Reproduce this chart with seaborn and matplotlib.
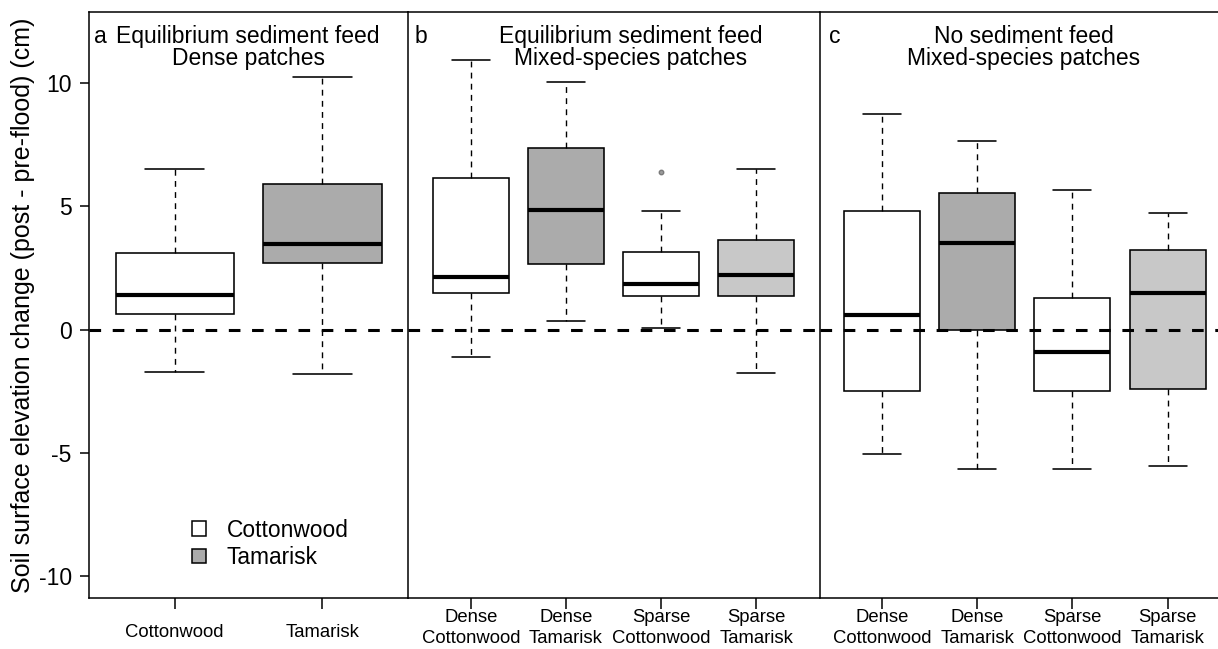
import matplotlib
matplotlib.use("Agg")
import matplotlib.pyplot as plt
from matplotlib.patches import Patch
import pandas as pd
import seaborn as sns

# ---- box summaries: lower whisker, Q1, median, Q3, upper whisker, outliers ----
# Panel a: equilibrium sediment feed, dense patches
a_groups = ["Cottonwood", "Tamarisk"]
a_low = [-1.71, -1.80]
a_q1 = [0.64, 2.68]
a_med = [1.41, 3.45]
a_q3 = [3.09, 5.91]
a_high = [6.52, 10.22]
a_out = [[], []]

# Panel b: equilibrium sediment feed, mixed-species patches
b_groups = ["Dense\nCottonwood", "Dense\nTamarisk", "Sparse\nCottonwood", "Sparse\nTamarisk"]
b_low = [-1.10, 0.33, 0.05, -1.76]
b_q1 = [1.47, 2.67, 1.36, 1.36]
b_med = [2.13, 4.83, 1.83, 2.20]
b_q3 = [6.13, 7.34, 3.14, 3.64]
b_high = [10.92, 10.05, 4.82, 6.51]
b_out = [[], [], [6.38], []]

# Panel c: no sediment feed, mixed-species patches
c_groups = ["Dense\nCottonwood", "Dense\nTamarisk", "Sparse\nCottonwood", "Sparse\nTamarisk"]
c_low = [-5.06, -5.67, -5.67, -5.53]
c_q1 = [-2.48, 0.00, -2.48, -2.42]
c_med = [0.59, 3.51, -0.93, 1.47]
c_q3 = [4.82, 5.55, 1.29, 3.21]
c_high = [8.72, 7.64, 5.67, 4.71]
c_out = [[], [], [], []]

fills = {
    "Cottonwood": "white",
    "Tamarisk": "#ababab",
    "Dense\nCottonwood": "white",
    "Dense\nTamarisk": "#ababab",
    "Sparse\nCottonwood": "white",
    "Sparse\nTamarisk": "#c8c8c8",
}

sns.set_theme(style="ticks")
plt.rcParams["font.family"] = ["Liberation Sans", "DejaVu Sans"]
plt.rcParams["axes.unicode_minus"] = False
plt.rcParams["axes.linewidth"] = 1.1
plt.rcParams["xtick.major.width"] = 1.1
plt.rcParams["ytick.major.width"] = 1.1
for key in ("text.color", "axes.labelcolor", "xtick.color", "ytick.color", "axes.edgecolor"):
    plt.rcParams[key] = "black"

W, H = 1218, 649
fig = plt.figure(figsize=(W / 100, H / 100), dpi=100)
fig.patch.set_facecolor("white")

TOP, BOT = 12, 597.5
HEAD_SIZE = 16.5


def rect(left_px, width_px):
    return [left_px / W, 1 - BOT / H, width_px / W, (BOT - TOP) / H]


def box_frame(groups, low, q1, med, q3, high, outs):
    """Points whose quartiles and whisker ends equal the given summaries."""
    rows = []
    for g, lo, a, m, b, hi, o in zip(groups, low, q1, med, q3, high, outs):
        vals = [lo, a, a, m, m, b, b, hi] + list(o)
        rows += [(g, v) for v in vals]
    return pd.DataFrame(rows, columns=["group", "value"])


def draw_panel(ax, groups, low, q1, med, q3, high, outs):
    df = box_frame(groups, low, q1, med, q3, high, outs)
    sns.boxplot(
        data=df, x="group", y="value", hue="group", order=groups,
        hue_order=groups, palette=fills, legend=False, width=0.8,
        whis=1.5, linecolor="black", linewidth=1.15, ax=ax,
        whiskerprops={"linestyle": (0, (4.2, 3.8)), "linewidth": 1.0},
        medianprops={"linewidth": 3.0, "color": "black"},
        capprops={"linewidth": 1.15},
        flierprops={"marker": "o", "markersize": 3.2,
                    "markerfacecolor": "#9a9a9a", "markeredgecolor": "#7a7a7a"},
    )
    ax.axhline(0, color="black", linewidth=2.2, linestyle=(0, (3.8, 3.8)), zorder=5)
    n = len(groups)
    ax.set_xlim(-0.5 - 0.04 * n, n - 0.5 + 0.04 * n)
    ax.set_ylim(-10.86, 12.87)
    ax.set_xlabel("")
    ax.set_ylabel("")
    for s in ax.spines.values():
        s.set_visible(True)
        s.set_color("black")
        s.set_linewidth(1.1)
    ax.tick_params(axis="x", direction="out", length=8, labelsize=13.3, colors="black")
    for t in ax.get_xticklabels():
        t.set_linespacing(1.3)


ax_a = fig.add_axes(rect(89, 319.2))
ax_b = fig.add_axes(rect(408.2, 410.8))
ax_c = fig.add_axes(rect(819.5, 410.8))

draw_panel(ax_a, a_groups, a_low, a_q1, a_med, a_q3, a_high, a_out)
draw_panel(ax_b, b_groups, b_low, b_q1, b_med, b_q3, b_high, b_out)
draw_panel(ax_c, c_groups, c_low, c_q1, c_med, c_q3, c_high, c_out)

# neighbouring panels share a single dividing line
ax_a.spines["right"].set_visible(False)
ax_b.spines["right"].set_visible(False)

ax_a.tick_params(axis="x", pad=11)
ax_b.tick_params(axis="x", pad=0)
ax_c.tick_params(axis="x", pad=0)

ax_a.set_yticks([-10, -5, 0, 5, 10])
ax_a.tick_params(axis="y", direction="out", length=6.5, pad=6, labelsize=16.5, colors="black")
for ax in (ax_b, ax_c):
    ax.tick_params(axis="y", left=False, labelleft=False)

fig.text(23 / W, 1 - 305 / H, "Soil surface elevation change (post - pre-flood) (cm)",
         rotation=90, ha="center", va="center", fontsize=18, color="black")


# Panel headings
def heading(x_px, lines, letter, letter_px):
    fig.text(letter_px / W, 1 - 43 / H, letter, ha="left", va="baseline",
             fontsize=HEAD_SIZE, color="black")
    for i, line in enumerate(lines):
        fig.text(x_px / W, 1 - (43 + 22.5 * i) / H, line, ha="center",
                 va="baseline", fontsize=HEAD_SIZE, color="black")


heading(248, ["Equilibrium sediment feed", "Dense patches"], "a", 94)
heading(631, ["Equilibrium sediment feed", "Mixed-species patches"], "b", 415)
heading(1024, ["No sediment feed", "Mixed-species patches"], "c", 829)

handles = [Patch(facecolor="white", edgecolor="black", linewidth=1.1, label="Cottonwood"),
           Patch(facecolor="#ababab", edgecolor="black", linewidth=1.1, label="Tamarisk")]
fig.legend(handles=handles, loc="center left", bbox_to_anchor=(192 / W, 1 - 544 / H),
           frameon=False, fontsize=16.4, handlelength=0.63, handleheight=0.63,
           handletextpad=0.88, labelspacing=0.18, borderpad=0, borderaxespad=0,
           labelcolor="black")

fig.savefig("out.png", dpi=100, facecolor="white")
